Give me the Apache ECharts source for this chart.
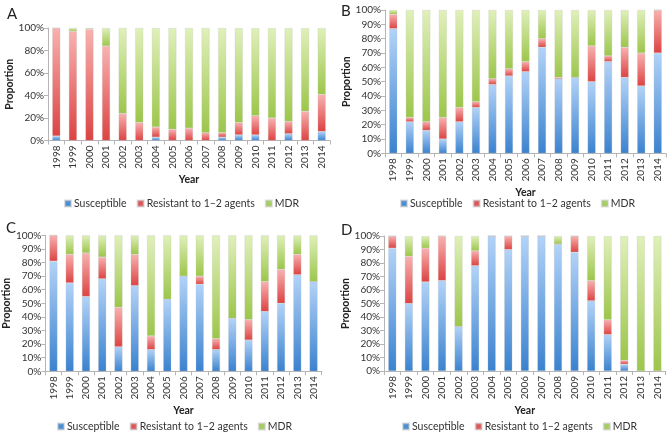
<!DOCTYPE html>
<html><head><meta charset="utf-8">
<script src="https://cdn.jsdelivr.net/npm/echarts@6/dist/echarts.min.js"></script>
<style>html,body{margin:0;padding:0;background:#fff}#c{width:668px;height:432px}</style>
</head><body><div id="c"></div>
<script>
var years = ['1998','1999','2000','2001','2002','2003','2004','2005','2006','2007','2008','2009','2010','2011','2012','2013','2014'];
var seriesNames = ['Susceptible','Resistant to 1\u20132 agents','MDR'];
var panelLabels = ['A','B','C','D'];

var A_S = [4,0,0,0,0,0,3,0,0,0,3,5,5,0,6,0,8];
var A_R = [96,97,99,84,24,16,9,10,11,7,4,11,17,20,11,26,33];
var A_M = [0,3,1,16,76,84,88,90,89,93,93,84,78,80,83,74,59];

var B_S = [87,22,16,10,22,32,48,54,57,74,52,53,50,64,53,47,70];
var B_R = [10,3,6,15,10,4,4,5,7,6,1,0,25,4,21,23,30];
var B_M = [3,75,78,75,68,64,48,41,36,20,47,47,25,32,26,30,0];

var C_S = [81,65,55,68,18,63,16,53,70,64,16,39,23,44,50,71,66];
var C_R = [19,21,32,16,29,23,10,0,0,6,8,0,15,22,25,15,0];
var C_M = [0,14,13,16,53,14,74,47,30,30,76,61,62,34,25,14,34];

var D_S = [91,50,66,67,33,78,100,90,100,100,94,88,52,27,5,0,0];
var D_R = [9,35,25,33,0,11,0,10,0,0,0,12,15,11,3,0,0];
var D_M = [0,15,9,0,67,11,0,0,0,0,6,0,33,62,92,100,100];

var yTickStep = [20,10,10,10];

var panels = [[A_S,A_R,A_M],[B_S,B_R,B_M],[C_S,C_R,C_M],[D_S,D_R,D_M]];

var grids = [
  {left:48, top:28, width:282, height:112.5},
  {left:385, top:10, width:281, height:143.3},
  {left:41, top:235.3, width:280.7, height:136},
  {left:384, top:236, width:281.7, height:135}
];
var titlePos = [{left:2,top:2},{left:336,top:-1},{left:1,top:216},{left:336,top:218}];
var legendPos = [{left:64,top:198},{left:400,top:198},{left:57,top:421},{left:402,top:421}];
var yNameGap = [26,28,32,28];

var dark = ['#3a82cf','#dc4342','#9cc64a'];
var light = ['#b2d3f8','#f8b2b0','#e0f0ba'];
var flat = ['#4a8fd6','#e05555','#a6cf5a'];

function grad(i){
  return {type:'linear',x:0,y:0,x2:0,y2:1,colorStops:[{offset:0,color:light[i]},{offset:1,color:dark[i]}]};
}

var font = 'Lato, "Liberation Sans", sans-serif';
var option = {
  animation:false,
  backgroundColor:'#fff',
  title: panelLabels.map(function(t,i){return {text:t,left:titlePos[i].left,top:titlePos[i].top,textStyle:{fontSize:15,fontWeight:'normal',color:'#222',fontFamily:font}};}),
  legend: legendPos.map(function(p){return {left:p.left,top:p.top,padding:0,itemWidth:6,itemHeight:6,itemGap:10,icon:'rect',
    textStyle:{fontSize:10.5,color:'#333',fontFamily:font,padding:[0,0,0,-2]},
    data:seriesNames.map(function(n,i){return {name:n,itemStyle:{color:flat[i]}};})};}),
  grid: grids,
  xAxis: grids.map(function(g,i){return {type:'category',gridIndex:i,data:years,
    name:'Year',nameLocation:'middle',nameGap:34,
    nameTextStyle:{fontWeight:'bold',fontSize:10.5,color:'#222',fontFamily:font},
    axisLine:{lineStyle:{color:'#b5b5b5'}},
    axisTick:{show:true,alignWithLabel:false,length:4,lineStyle:{color:'#b5b5b5'}},
    axisLabel:{rotate:90,fontSize:10,color:'#333',margin:5,fontFamily:font}};}),
  yAxis: grids.map(function(g,i){return {type:'value',gridIndex:i,min:0,max:100,interval:yTickStep[i],
    name:'Proportion',nameLocation:'middle',nameRotate:90,nameGap:yNameGap[i],
    nameTextStyle:{fontWeight:'bold',fontSize:10.5,color:'#222',fontFamily:font},
    splitLine:{show:false},
    axisLine:{show:true,lineStyle:{color:'#b5b5b5'}},
    axisTick:{show:true,length:4,lineStyle:{color:'#b5b5b5'}},
    axisLabel:{formatter:'{value}%',fontSize:10,color:'#333',margin:4,fontFamily:font}};}),
  series: []
};
panels.forEach(function(p,gi){
  p.forEach(function(vals,si){
    option.series.push({type:'bar',name:seriesNames[si],xAxisIndex:gi,yAxisIndex:gi,stack:'s'+gi,
      data:vals,barWidth:8,itemStyle:{color:grad(si),borderColor:'rgba(190,190,190,0.5)',borderWidth:0.5}});
  });
});
var chart = echarts.init(document.getElementById('c'),null,{renderer:'canvas'});
chart.setOption(option);
</script>
</body></html>
